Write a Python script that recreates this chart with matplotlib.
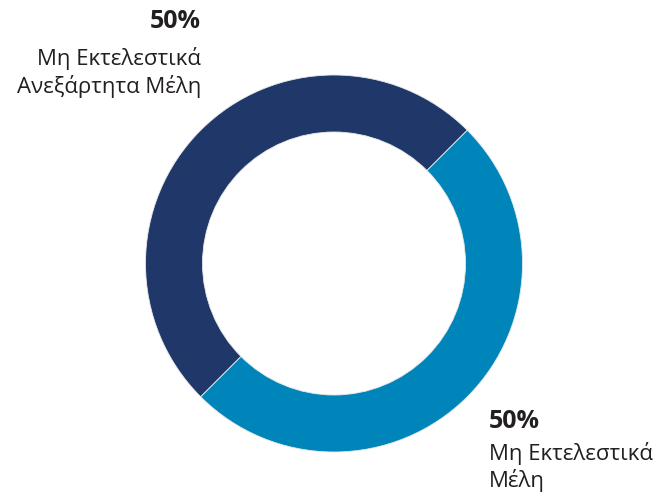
import matplotlib
matplotlib.use("Agg")
import matplotlib.pyplot as plt

# data
labels = ["Μη Εκτελεστικά\nΑνεξάρτητα Μέλη", "Μη Εκτελεστικά\nΜέλη"]
values = [50, 50]
colors = ["#1F3869", "#0085BA"]

plt.rcParams['font.family'] = ['Open Sans', 'Noto Sans', 'DejaVu Sans']

W, H = 667, 492
fig = plt.figure(figsize=(W / 100, H / 100), dpi=100)

# donut centre and radius in pixels
cx, cy, r_out, r_in = 334, 263.5, 188.5, 131.5
ax = fig.add_axes([(cx - r_out) / W, (H - cy - r_out) / H, 2 * r_out / W, 2 * r_out / H])
ax.pie(values, colors=colors, startangle=45, counterclock=True, radius=1,
       wedgeprops=dict(width=(r_out - r_in) / r_out, edgecolor="#e8e8e8", linewidth=0.6))
ax.set_xlim(-1, 1)
ax.set_ylim(-1, 1)
ax.set_aspect("equal")
ax.axis("off")

txt = "#231f20"
fs = 16

def px(x, y):
    return x / W, 1 - y / H

# upper-left label (right aligned)
fig.text(*px(201, 28), f"{values[0]}%", ha="right", va="baseline", fontsize=18,
         fontweight="bold", color=txt)
for i, line in enumerate(labels[0].split("\n")):
    fig.text(*px(201, 65.5 + i * 27.5), line, ha="right", va="baseline", fontsize=fs, color=txt)

# lower-right label (left aligned)
fig.text(*px(489, 428), f"{values[1]}%", ha="left", va="baseline", fontsize=18,
         fontweight="bold", color=txt)
for i, line in enumerate(labels[1].split("\n")):
    fig.text(*px(489, 460 + i * 27.5), line, ha="left", va="baseline", fontsize=fs, color=txt)

fig.savefig("out.png", dpi=100, facecolor="white")
